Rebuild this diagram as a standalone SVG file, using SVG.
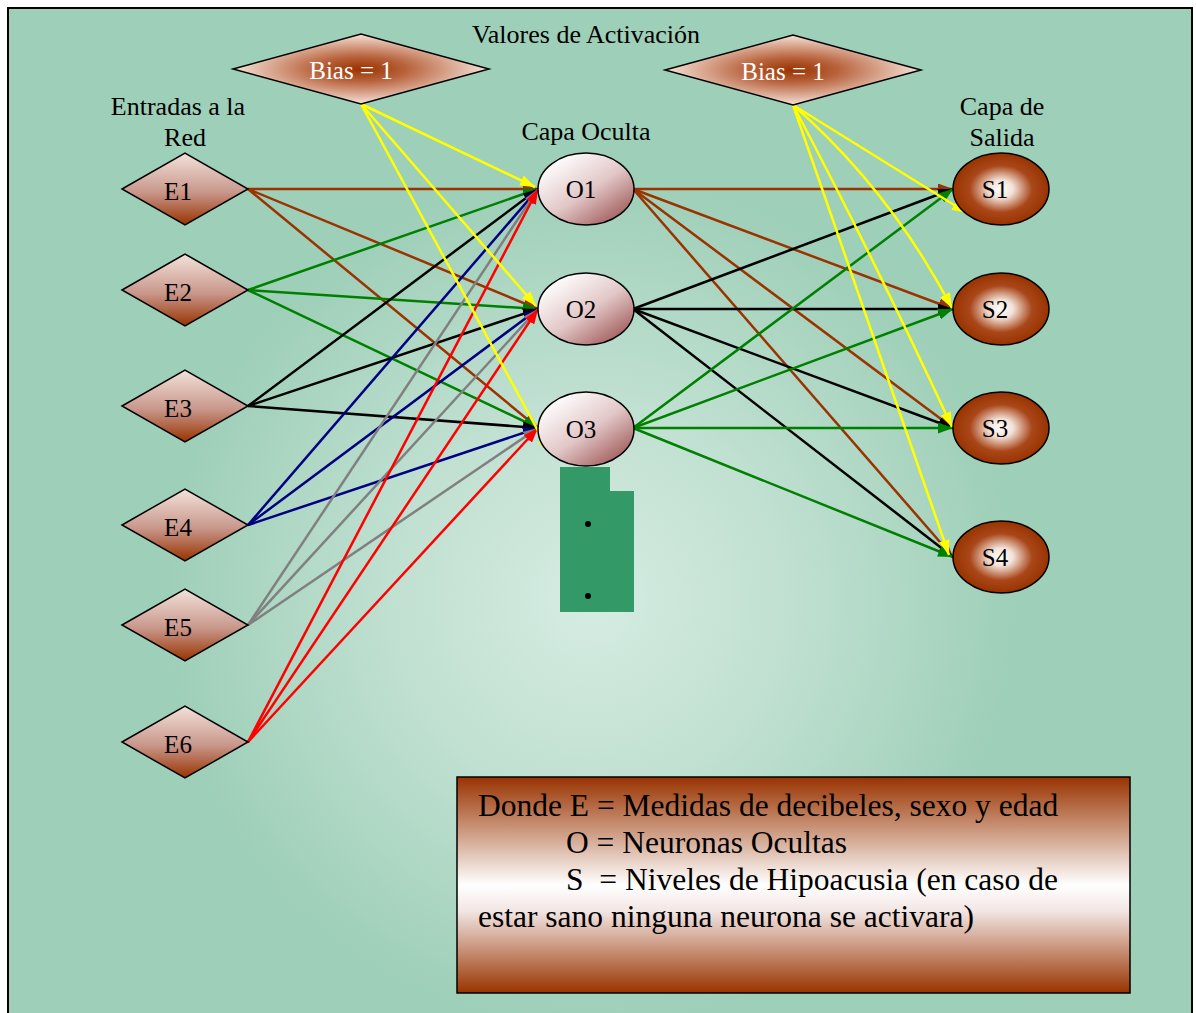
<svg xmlns="http://www.w3.org/2000/svg" width="1196" height="1013" viewBox="0 0 1196 1013">
<defs>
<radialGradient id="bg" cx="590" cy="600" r="500" gradientUnits="userSpaceOnUse">
<stop offset="0" stop-color="#d6ece2"/>
<stop offset="0.4" stop-color="#c0e0d1"/>
<stop offset="0.85" stop-color="#9ecfb8"/>
<stop offset="1" stop-color="#9ecfb8"/>
</radialGradient>
<radialGradient id="bias" cx="0.5" cy="0.5" r="0.5">
<stop offset="0" stop-color="#993300"/>
<stop offset="0.35" stop-color="#b8623c"/>
<stop offset="1" stop-color="#f6e2d8"/>
</radialGradient>
<linearGradient id="ediam" x1="0" y1="0" x2="0" y2="1">
<stop offset="0" stop-color="#f3e2da"/>
<stop offset="0.55" stop-color="#c8968a"/>
<stop offset="1" stop-color="#993300"/>
</linearGradient>
<linearGradient id="oell" x1="0.15" y1="0.1" x2="0.9" y2="0.95">
<stop offset="0" stop-color="#ffffff"/>
<stop offset="0.5" stop-color="#e2c7c7"/>
<stop offset="1" stop-color="#9c5252"/>
</linearGradient>
<radialGradient id="sell" cx="0.5" cy="0.5" r="0.5">
<stop offset="0" stop-color="#ffffff"/>
<stop offset="0.25" stop-color="#f3e2d8"/>
<stop offset="0.65" stop-color="#a9471a"/>
<stop offset="1" stop-color="#993300"/>
</radialGradient>
<linearGradient id="leg" x1="0" y1="0" x2="0" y2="1">
<stop offset="0" stop-color="#993300"/>
<stop offset="0.5" stop-color="#ffffff"/>
<stop offset="0.62" stop-color="#f2e6e4"/>
<stop offset="1" stop-color="#993300"/>
</linearGradient>
<marker id="aBr" viewBox="0 0 10 10" refX="10" refY="5" markerWidth="6" markerHeight="4.4" orient="auto" markerUnits="strokeWidth" preserveAspectRatio="none"><path d="M0,0L10,5L0,10z" fill="#993300"/></marker>
<marker id="aGr" viewBox="0 0 10 10" refX="10" refY="5" markerWidth="6" markerHeight="4.4" orient="auto" markerUnits="strokeWidth" preserveAspectRatio="none"><path d="M0,0L10,5L0,10z" fill="#008000"/></marker>
<marker id="aBk" viewBox="0 0 10 10" refX="10" refY="5" markerWidth="6" markerHeight="4.4" orient="auto" markerUnits="strokeWidth" preserveAspectRatio="none"><path d="M0,0L10,5L0,10z" fill="#000000"/></marker>
<marker id="aNv" viewBox="0 0 10 10" refX="10" refY="5" markerWidth="6" markerHeight="4.4" orient="auto" markerUnits="strokeWidth" preserveAspectRatio="none"><path d="M0,0L10,5L0,10z" fill="#000080"/></marker>
<marker id="aGy" viewBox="0 0 10 10" refX="10" refY="5" markerWidth="6" markerHeight="4.4" orient="auto" markerUnits="strokeWidth" preserveAspectRatio="none"><path d="M0,0L10,5L0,10z" fill="#808080"/></marker>
<marker id="aRd" viewBox="0 0 10 10" refX="10" refY="5" markerWidth="6" markerHeight="4.4" orient="auto" markerUnits="strokeWidth" preserveAspectRatio="none"><path d="M0,0L10,5L0,10z" fill="#ff0000"/></marker>
<marker id="aYe" viewBox="0 0 10 10" refX="10" refY="5" markerWidth="6" markerHeight="4.4" orient="auto" markerUnits="strokeWidth" preserveAspectRatio="none"><path d="M0,0L10,5L0,10z" fill="#ffff00"/></marker>
</defs>
<style>
text{font-family:"Liberation Serif","Times New Roman",serif;fill:#000}
.lbl{font-size:26px;text-anchor:middle}
.nl{font-size:25px;text-anchor:middle}
.bt{font-size:25px;text-anchor:middle;fill:#fff}
.lg{font-size:31.5px}
.diam{stroke:#000;stroke-width:1.5}
.ell{stroke:#000;stroke-width:1.5}
#edges line,#edges path{stroke-width:2.5;fill:none}
.br{stroke:#993300;marker-end:url(#aBr)}
.gr{stroke:#008000;marker-end:url(#aGr)}
.bk{stroke:#000;marker-end:url(#aBk)}
.nv{stroke:#000080;marker-end:url(#aNv)}
.gy{stroke:#808080;marker-end:url(#aGy)}
.rd{stroke:#ff0000;marker-end:url(#aRd)}
.ye{stroke:#ffff00;marker-end:url(#aYe)}
</style>
<rect x="8" y="8" width="1184" height="1010" fill="url(#bg)" stroke="#000" stroke-width="2"/>
<text class="lbl" x="586" y="43">Valores de Activación</text>
<text class="lbl" x="178" y="115">Entradas a la</text>
<text class="lbl" x="185" y="146">Red</text>
<text class="lbl" x="586" y="140">Capa Oculta</text>
<text class="lbl" x="1002" y="115">Capa de</text>
<text class="lbl" x="1002" y="146">Salida</text>

<g id="edges">
<line class="br" x1="248" y1="189" x2="538" y2="189"/>
<line class="br" x1="248" y1="189" x2="538" y2="309"/>
<line class="br" x1="248" y1="189" x2="538" y2="428"/>
<line class="gr" x1="248" y1="290" x2="538" y2="189"/>
<line class="gr" x1="248" y1="290" x2="538" y2="309"/>
<line class="gr" x1="248" y1="290" x2="538" y2="428"/>
<line class="bk" x1="248" y1="406" x2="538" y2="189"/>
<line class="bk" x1="248" y1="406" x2="538" y2="309"/>
<line class="bk" x1="248" y1="406" x2="538" y2="428"/>
<line class="nv" x1="248" y1="525" x2="538" y2="189"/>
<line class="nv" x1="248" y1="525" x2="538" y2="309"/>
<line class="nv" x1="248" y1="525" x2="538" y2="428"/>
<line class="gy" x1="248" y1="625" x2="538" y2="189"/>
<line class="gy" x1="248" y1="625" x2="538" y2="309"/>
<line class="gy" x1="248" y1="625" x2="538" y2="428"/>
<line class="rd" x1="248" y1="742" x2="538" y2="189"/>
<line class="rd" x1="248" y1="742" x2="538" y2="309"/>
<line class="rd" x1="248" y1="742" x2="538" y2="428"/>
<line class="ye" x1="361" y1="104" x2="535" y2="187"/>
<line class="ye" x1="361" y1="104" x2="536" y2="306"/>
<line class="ye" x1="361" y1="104" x2="550" y2="453"/>
<line class="br" x1="633" y1="189" x2="953" y2="189"/>
<line class="br" x1="633" y1="189" x2="953" y2="309"/>
<line class="br" x1="633" y1="189" x2="953" y2="428"/>
<line class="br" x1="633" y1="189" x2="953" y2="557"/>
<line class="bk" x1="633" y1="309" x2="953" y2="189"/>
<line class="bk" x1="633" y1="309" x2="953" y2="309"/>
<line class="bk" x1="633" y1="309" x2="953" y2="428"/>
<line class="bk" x1="633" y1="309" x2="953" y2="557"/>
<line class="gr" x1="633" y1="428" x2="953" y2="189"/>
<line class="gr" x1="633" y1="428" x2="953" y2="309"/>
<line class="gr" x1="633" y1="428" x2="953" y2="428"/>
<line class="gr" x1="633" y1="428" x2="953" y2="557"/>
<line class="ye" x1="793" y1="105" x2="967" y2="213"/>
<path class="ye" d="M793,105 Q890,190 952,308"/>
<path class="ye" d="M793,105 Q870,250 952,427"/>
<line class="ye" x1="793" y1="105" x2="949" y2="555"/>
</g>

<g id="bias1"><polygon class="diam" points="233,69 361,34 489,69 361,104" fill="url(#bias)"/><text class="bt" x="351" y="79">Bias = 1</text></g>
<g id="bias2"><polygon class="diam" points="665,70 793,35 921,70 793,105" fill="url(#bias)"/><text class="bt" x="783" y="80">Bias = 1</text></g>

<g id="E1"><polygon class="diam" points="122,189 185,153 248,189 185,225" fill="url(#ediam)"/><text class="nl" x="178" y="200">E1</text></g>
<g id="E2"><polygon class="diam" points="122,290 185,254 248,290 185,326" fill="url(#ediam)"/><text class="nl" x="178" y="301">E2</text></g>
<g id="E3"><polygon class="diam" points="122,406 185,370 248,406 185,442" fill="url(#ediam)"/><text class="nl" x="178" y="417">E3</text></g>
<g id="E4"><polygon class="diam" points="122,525 185,489 248,525 185,561" fill="url(#ediam)"/><text class="nl" x="178" y="536">E4</text></g>
<g id="E5"><polygon class="diam" points="122,625 185,589 248,625 185,661" fill="url(#ediam)"/><text class="nl" x="178" y="636">E5</text></g>
<g id="E6"><polygon class="diam" points="122,742 185,706 248,742 185,778" fill="url(#ediam)"/><text class="nl" x="178" y="753">E6</text></g>

<g id="O1"><ellipse class="ell" cx="586" cy="189" rx="48" ry="36" fill="url(#oell)"/><text class="nl" x="581" y="198">O1</text></g>
<g id="O2"><ellipse class="ell" cx="586" cy="309" rx="48" ry="36" fill="url(#oell)"/><text class="nl" x="581" y="318">O2</text></g>
<g id="O3"><ellipse class="ell" cx="586" cy="429" rx="48" ry="37" fill="url(#oell)"/><text class="nl" x="581" y="438">O3</text></g>

<g id="dots">
<path d="M560,467H610V491H634V612H560z" fill="#339966"/>
<circle cx="588" cy="524" r="3" fill="#000"/>
<circle cx="588" cy="596" r="3" fill="#000"/>
</g>

<g id="S1"><ellipse class="ell" cx="1001" cy="189" rx="48" ry="36" fill="url(#sell)"/><text class="nl" x="995" y="198">S1</text></g>
<g id="S2"><ellipse class="ell" cx="1001" cy="309" rx="48" ry="36" fill="url(#sell)"/><text class="nl" x="995" y="318">S2</text></g>
<g id="S3"><ellipse class="ell" cx="1001" cy="428" rx="48" ry="36" fill="url(#sell)"/><text class="nl" x="995" y="437">S3</text></g>
<g id="S4"><ellipse class="ell" cx="1001" cy="557" rx="48" ry="36" fill="url(#sell)"/><text class="nl" x="995" y="566">S4</text></g>

<g id="legend">
<rect x="457" y="777" width="673" height="216" fill="url(#leg)" stroke="#000" stroke-width="1.5"/>
<text class="lg" x="478" y="816">Donde E = Medidas de decibeles, sexo y edad</text>
<text class="lg" x="566" y="853">O = Neuronas Ocultas</text>
<text class="lg" x="566" y="890" xml:space="preserve">S  = Niveles de Hipoacusia (en caso de</text>
<text class="lg" x="478" y="927">estar sano ninguna neurona se activara)</text>
</g>
</svg>
